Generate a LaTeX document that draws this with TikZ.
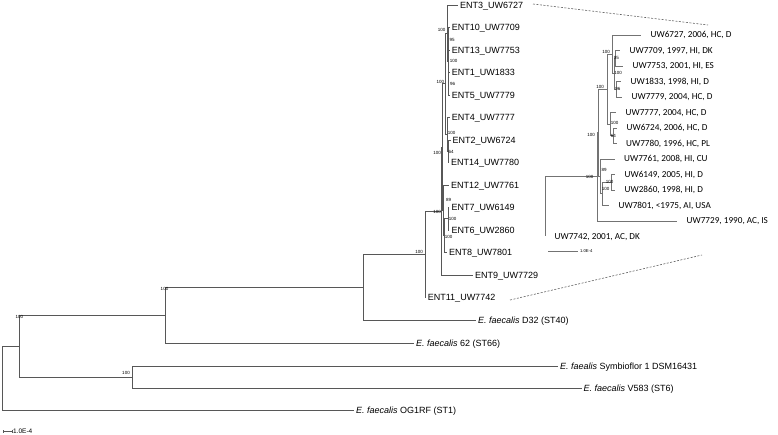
\documentclass[tikz,border=0pt]{standalone}
\usepackage{fontspec}
\setmainfont{Liberation Sans}
\newfontfamily\insetfont{Carlito}
\usetikzlibrary{arrows.meta}
\begin{document}
\begin{tikzpicture}[x=1pt,y=-1pt,
   br/.style={draw=black!66,line width=0.75pt},
   ibr/.style={draw=black!55,line width=0.8pt},
   leaf/.style={anchor=west,inner sep=0pt,inner xsep=2pt,text height=6.5pt,text depth=0pt,
      font=\fontsize{9}{9}\selectfont},
   ileaf/.style={anchor=west,inner sep=0pt,inner xsep=9.5pt,text height=5.9pt,text depth=0pt,
      font=\insetfont\fontsize{9.2}{9.2}\selectfont},
   boot/.style={inner sep=0pt,font=\fontsize{4.5}{4.5}\selectfont},
   zoomline/.style={draw=black!62,dash pattern=on 2pt off 1.5pt,line width=0.6pt}]
   \useasboundingbox (0,0) rectangle (778,435);

   % whole tree
   \coordinate (root) at (2,378.2);
   \coordinate (n1) at (19,346.5);
   \coordinate (n2) at (165,315.5);
   \coordinate (n3) at (132,377);
   \coordinate (n4) at (363,287.1);
   \node[leaf] (og1rf) at (354,410) {\textit{E. faecalis} OG1RF (ST1)};
   \node[leaf] (st66) at (414,343) {\textit{E. faecalis} 62 (ST66)};
   \node[leaf] (st40) at (476,320) {\textit{E. faecalis} D32 (ST40)};
   \node[leaf] (dsm) at (558,366) {\textit{E. faealis} Symbioflor 1 DSM16431};
   \node[leaf] (st6) at (581.5,388) {\textit{E. faecalis} V583 (ST6)};

   \coordinate (c0) at (425.7,254.2);
   \coordinate (c1) at (441.7,211);
   \coordinate (c2) at (442.5,147);
   \coordinate (c3) at (445.5,83.75);
   \coordinate (c4) at (447.5,33.1);
   \coordinate (c5) at (448,61.25);
   \coordinate (c6) at (448.5,38.75);
   \coordinate (c7) at (448.5,83.75);
   \coordinate (c8) at (447,134.4);
   \coordinate (c9) at (448,151.25);
   \coordinate (c10) at (443,210.3);
   \coordinate (c11) at (444,235.6);
   \coordinate (c12) at (448.3,218.75);

   \node[leaf] (e3) at (458,5) {ENT3\_UW6727};
   \node[leaf] (e10) at (449.7,27.5) {ENT10\_UW7709};
   \node[leaf] (e13) at (449.7,50) {ENT13\_UW7753};
   \node[leaf] (e1) at (449.7,72.5) {ENT1\_UW1833};
   \node[leaf] (e5) at (449.7,95) {ENT5\_UW7779};
   \node[leaf] (e4) at (449.7,117.5) {ENT4\_UW7777};
   \node[leaf] (e2) at (450.5,140) {ENT2\_UW6724};
   \node[leaf] (e14) at (449,162.5) {ENT14\_UW7780};
   \node[leaf] (e12) at (449,185) {ENT12\_UW7761};
   \node[leaf] (e7) at (449.3,207.5) {ENT7\_UW6149};
   \node[leaf] (e6) at (449.3,230) {ENT6\_UW2860};
   \node[leaf] (e8) at (447,252.5) {ENT8\_UW7801};
   \node[leaf] (e9) at (473,275) {ENT9\_UW7729};
   \node[leaf] (e11) at (425.7,297.5) {ENT11\_UW7742};

   \draw[br] (root) |- (n1) (root) |- (og1rf.west);
   \draw[br] (n1) |- (n2) (n1) |- (n3);
   \draw[br] (n2) |- (n4) (n2) |- (st66.west);
   \draw[br] (n3) |- (dsm.west) (n3) |- (st6.west);
   \draw[br] (n4) |- (c0) (n4) |- (st40.west);
   \draw[br] (c0) |- (c1) (c0) |- (e11.west);
   \draw[br] (c1) |- (c2) (c1) |- (e9.west);
   \draw[br] (c2) |- (c3) (c2) |- (c10);
   \draw[br] (c3) |- (c4) (c3) |- (c8);
   \draw[br] (c4) |- (e3.west) (c4) |- (c5);
   \draw[br] (c5) |- (c6) (c5) |- (c7);
   \draw[br] (c6) |- (e10.west) (c6) |- (e13.west);
   \draw[br] (c7) |- (e1.west) (c7) |- (e5.west);
   \draw[br] (c8) |- (e4.west) (c8) |- (c9);
   \draw[br] (c9) |- (e2.west) (c9) |- (e14.west);
   \draw[br] (c10) |- (e12.west) (c10) |- (c11);
   \draw[br] (c11) |- (c12) (c11) |- (e8.west);
   \draw[br] (c12) |- (e7.west) (c12) |- (e6.west);

   \node[boot] (bn1) at (19.3,316.5) {100};
   \node[boot] (bn2) at (164.5,289) {100};
   \node[boot] (bn3) at (126,373) {100};
   \node[boot] (bc0) at (419,252) {100};
   \node[boot] (bc1) at (437,212) {100};
   \node[boot] (bc2) at (437,153.3) {100};
   \node[boot] (bc3) at (440.3,81.7) {100};
   \node[boot] (bc4) at (441.7,30) {100};
   \node[boot] (bc5) at (453.7,61) {100};
   \node[boot] (bc6) at (452,40) {95};
   \node[boot] (bc7) at (452.5,84.3) {96};
   \node[boot] (bc8) at (451.7,133.3) {100};
   \node[boot] (bc9) at (451,151.7) {64};
   \node[boot] (bc10) at (448.7,200.3) {89};
   \node[boot] (bc11) at (448.5,236.5) {100};
   \node[boot] (bc12) at (452.5,219.3) {100};

   \coordinate (sb1) at (3,431);
   \coordinate (sb2) at (12,431);
   \draw[br,line width=0.4pt,{Bar[width=3pt]}-{Bar[width=3pt]}] (sb1) -- (sb2)
      node[right,inner sep=1pt,font=\fontsize{6.5}{6.5}\selectfont] (sbl) {1.0E-4};

   % zoomed clade
   \coordinate (k0) at (545,206.7);
   \coordinate (k1) at (597,176.9);
   \coordinate (k2) at (598.5,132.8);
   \coordinate (k3) at (607,89.25);
   \coordinate (k4) at (612,54.4);
   \coordinate (k5) at (614,73.75);
   \coordinate (k6) at (615,58.25);
   \coordinate (k7) at (616,89.25);
   \coordinate (k8) at (610,124.1);
   \coordinate (k9) at (613,135.75);
   \coordinate (k10) at (600,176.4);
   \coordinate (k11) at (602,193.9);
   \coordinate (k12) at (611.7,182.25);

   \node[ileaf] (i3) at (641,35) {UW6727, 2006, HC, D};
   \node[ileaf] (i10) at (620,50.5) {UW7709, 1997, HI, DK};
   \node[ileaf] (i13) at (623,66) {UW7753, 2001, HI, ES};
   \node[ileaf] (i1) at (621,81.5) {UW1833, 1998, HI, D};
   \node[ileaf] (i5) at (622,97) {UW7779, 2004, HC, D};
   \node[ileaf] (i4) at (616,112.5) {UW7777, 2004, HC, D};
   \node[ileaf] (i2) at (617,128) {UW6724, 2006, HC, D};
   \node[ileaf] (i14) at (616.5,143.5) {UW7780, 1996, HC, PL};
   \node[ileaf] (i12) at (614.5,159) {UW7761, 2008, HI, CU};
   \node[ileaf] (i7) at (615,174.5) {UW6149, 2005, HI, D};
   \node[ileaf] (i6) at (615,190) {UW2860, 1998, HI, D};
   \node[ileaf] (i8) at (609,205.5) {UW7801, <1975, AI, USA};
   \node[ileaf] (i9) at (677,221) {UW7729, 1990, AC, IS};
   \node[ileaf] (i11) at (545,236.5) {UW7742, 2001, AC, DK};

   \draw[ibr] (k0) |- (k1) (k0) |- (i11.west);
   \draw[ibr] (k1) |- (k2) (k1) |- (i9.west);
   \draw[ibr] (k2) |- (k3) (k2) |- (k10);
   \draw[ibr] (k3) |- (k4) (k3) |- (k8);
   \draw[ibr] (k4) |- (i3.west) (k4) |- (k5);
   \draw[ibr] (k5) |- (k6) (k5) |- (k7);
   \draw[ibr] (k6) |- (i10.west) (k6) |- (i13.west);
   \draw[ibr] (k7) |- (i1.west) (k7) |- (i5.west);
   \draw[ibr] (k8) |- (i4.west) (k8) |- (k9);
   \draw[ibr] (k9) |- (i2.west) (k9) |- (i14.west);
   \draw[ibr] (k10) |- (i12.west) (k10) |- (k11);
   \draw[ibr] (k11) |- (k12) (k11) |- (i8.west);
   \draw[ibr] (k12) |- (i7.west) (k12) |- (i6.west);

   \node[boot] (bk1) at (589.5,177.3) {100};
   \node[boot] (bk2) at (591,135) {100};
   \node[boot] (bk3) at (600,86.5) {100};
   \node[boot] (bk4) at (606,52) {100};
   \node[boot] (bk5) at (618,72.7) {100};
   \node[boot] (bk6) at (616.3,58.3) {95};
   \node[boot] (bk7) at (617.8,89) {96};
   \node[boot] (bk8) at (614.5,123.3) {100};
   \node[boot] (bk9) at (613.3,136) {64};
   \node[boot] (bk10) at (604,170) {89};
   \node[boot] (bk11) at (605.5,189.3) {100};
   \node[boot] (bk12) at (609.7,181.7) {100};

   \coordinate (ib1) at (548.3,251);
   \coordinate (ib2) at (578.3,251);
   \draw[ibr,line width=0.4pt] (ib1) -- (ib2)
      node[right,inner sep=1.5pt,font=\fontsize{4.2}{4.2}\selectfont] (ibl) {1.0E-4};

   \coordinate (z1) at (533,4);
   \coordinate (z2) at (708,25);
   \coordinate (z3) at (510,300);
   \coordinate (z4) at (702,255);
   \draw[zoomline] (z1) -- (z2);
   \draw[zoomline] (z3) -- (z4);
\end{tikzpicture}
\end{document}
